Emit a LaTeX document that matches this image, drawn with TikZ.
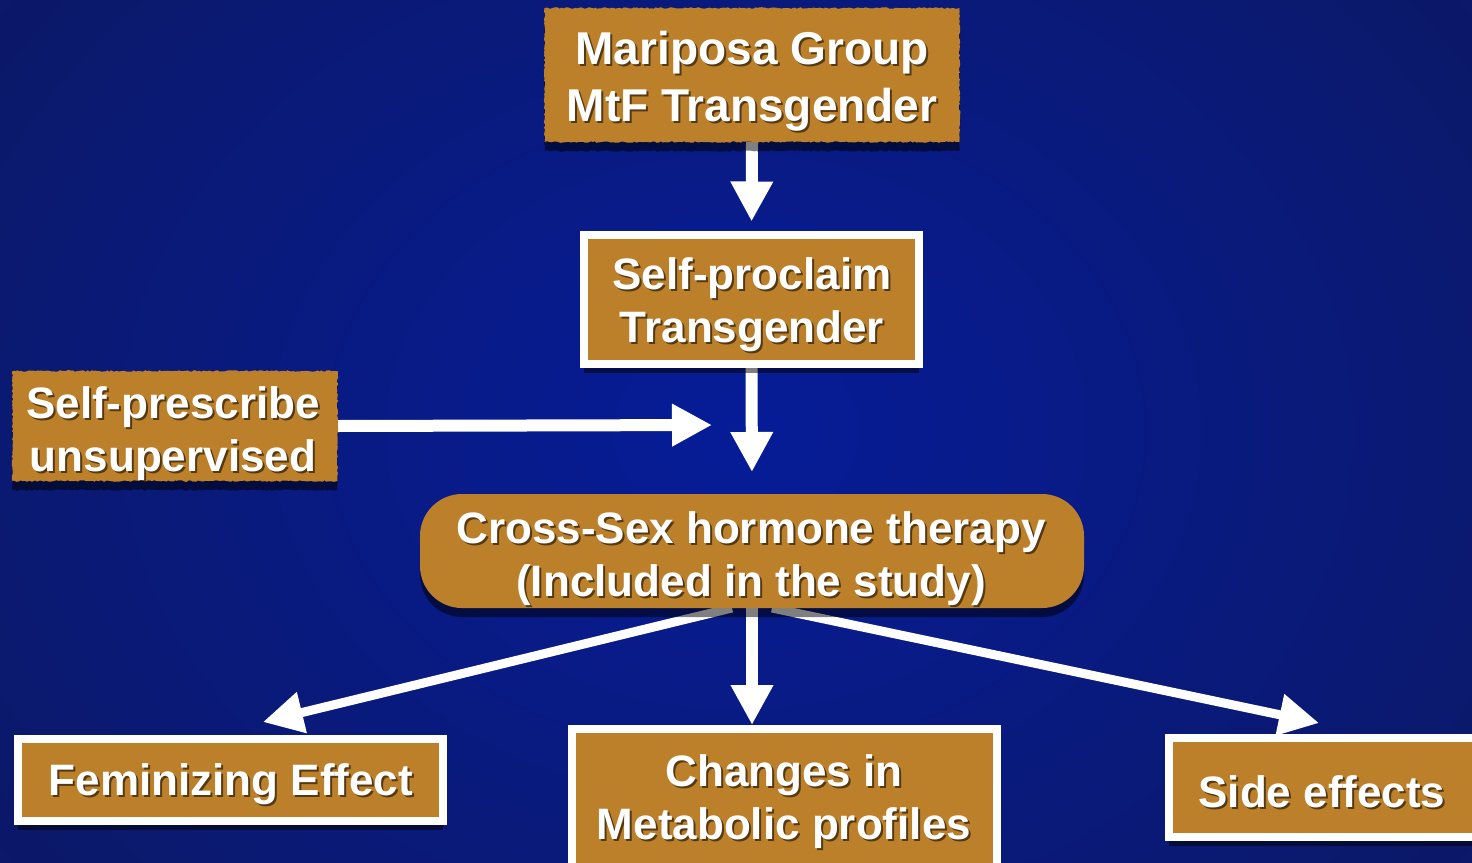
\documentclass[tikz,border=0pt]{standalone}
\usepackage{fontspec}
\setmainfont{Liberation Sans}
\usetikzlibrary{arrows.meta,shadows,decorations.pathmorphing}
\definecolor{orng}{RGB}{188,128,42}
\definecolor{bgin}{RGB}{6,28,152}
\definecolor{bgout}{RGB}{12,24,100}
\pgfdeclarelayer{bg}
\pgfdeclarelayer{arrows}
\pgfsetlayers{bg,arrows,main}
\tikzset{
 base/.style={fill=orng, outer sep=0pt, inner sep=0pt,
   drop shadow={shadow xshift=0pt,shadow yshift=-9pt,opacity=.5,fill=black}},
 ragbox/.style={base, decorate, decoration={random steps,segment length=2pt,amplitude=0.8pt}},
 framebox/.style={base, draw=white, line width=8pt},
 roundbox/.style={base, rounded corners=42pt},
 txt/.style={text=white, font=\bfseries\fontsize{44}{53}\selectfont, align=center, inner sep=0pt},
 bigtxt/.style={txt, font=\bfseries\fontsize{46}{57}\selectfont},
 txtsh/.style={text=black, text opacity=.55},
 arr/.style={draw=white, line width=12pt, -{Triangle[width=40pt,length=40pt]}},
 darr/.style={arr, line width=9pt},
}
\begin{document}
\begin{tikzpicture}[x=1pt,y=-1pt]
\useasboundingbox (0,0) rectangle (1472,862);
\clip (0,0) rectangle (1472,862);
\begin{pgfonlayer}{bg}
\shade[inner color=bgin, outer color=bgout] (-250,-350) rectangle (1722,1212);
\end{pgfonlayer}

% boxes
\node[ragbox, minimum width=415pt, minimum height=134pt] (m) at (752,75) {};
\node[framebox, minimum width=335pt, minimum height=129pt] (sp) at (751.5,299.5) {};
\node[ragbox, minimum width=325pt, minimum height=110pt] (spr) at (175,426) {};
\node[roundbox, minimum width=664pt, minimum height=114pt] (cs) at (752,551) {};
\node[framebox, minimum width=425pt, minimum height=82pt] (fe) at (230.5,779.5) {};
\node[framebox, minimum width=425pt, minimum height=150pt] (ch) at (784.5,804) {};
\node[framebox, minimum width=320pt, minimum height=99pt] (se) at (1329,787.5) {};

% arrows
\coordinate (j) at (712,425);
\coordinate (cd) at (752,725);
\coordinate (fl) at (263,722);
\coordinate (sr) at (1319,723);
\begin{pgfonlayer}{arrows}
\draw[arr, shorten >=13.5pt] (m.south) -- (sp.north);
\draw[arr, shorten >=22pt] (sp.south) -- (cs.north);
\draw[arr] (spr.east) -- (j);
\draw[arr] (cs.south) -- (cd);
\draw[darr] ([xshift=-20pt]cs.south) -- (fl);
\draw[darr] ([xshift=20pt]cs.south) -- (sr);
\end{pgfonlayer}

% text shadows
\node[bigtxt, txtsh] (m-s) at (754,83) {Mariposa Group\\MtF Transgender};
\node[txt, txtsh] (sp-s) at (754,307) {Self-proclaim\\Transgender};
\node[txt, txtsh] (spr-s) at (175,436) {Self-prescribe\\unsupervised};
\node[txt, txtsh] (cs-s) at (753,561) {Cross-Sex hormone therapy\\(Included in the study)};
\node[txt, txtsh] (fe-s) at (233,786) {Feminizing Effect};
\node[txt, txtsh] (ch-s) at (786,804) {Changes in\\Metabolic profiles};
\node[txt, txtsh] (se-s) at (1324,794) {Side effects};
% texts
\node[bigtxt] (m-t) at (752,81) {Mariposa Group\\MtF Transgender};
\node[txt] (sp-t) at (752,305) {Self-proclaim\\Transgender};
\node[txt] (spr-t) at (173,434) {Self-prescribe\\unsupervised};
\node[txt] (cs-t) at (751,559) {Cross-Sex hormone therapy\\(Included in the study)};
\node[txt] (fe-t) at (231,784) {Feminizing Effect};
\node[txt] (ch-t) at (784,802) {Changes in\\Metabolic profiles};
\node[txt] (se-t) at (1322,792) {Side effects};
\end{tikzpicture}
\end{document}
